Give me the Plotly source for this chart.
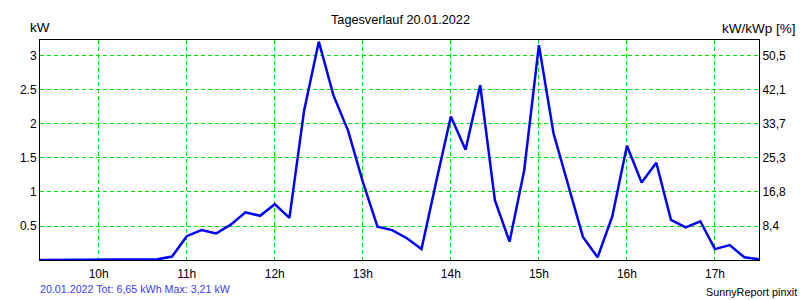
import plotly.graph_objects as go

times = ["09:20", "09:30", "09:40", "09:50", "10:00", "10:10", "10:20", "10:30",
         "10:40", "10:50", "11:00", "11:10", "11:20", "11:30", "11:40", "11:50",
         "12:00", "12:10", "12:20", "12:30", "12:40", "12:50", "13:00", "13:10",
         "13:20", "13:30", "13:40", "13:50", "14:00", "14:10", "14:20", "14:30",
         "14:40", "14:50", "15:00", "15:10", "15:20", "15:30", "15:40", "15:50",
         "16:00", "16:10", "16:20", "16:30", "16:40", "16:50", "17:00", "17:10",
         "17:20", "17:30"]
power_kw = [0, 0, 0, 0, 0, 0, 0, 0,
            0.01, 0.05, 0.35, 0.44, 0.39, 0.52, 0.70, 0.65,
            0.82, 0.62, 2.20, 3.21, 2.42, 1.90, 1.15, 0.49,
            0.44, 0.32, 0.16, 1.15, 2.11, 1.62, 2.57, 0.88,
            0.27, 1.32, 3.16, 1.86, 1.10, 0.34, 0.04, 0.64,
            1.68, 1.14, 1.43, 0.59, 0.48, 0.57, 0.16, 0.22,
            0.04, 0.01]

hour_ticks = ["10:00", "11:00", "12:00", "13:00", "14:00", "15:00", "16:00", "17:00"]
hour_labels = ["10h", "11h", "12h", "13h", "14h", "15h", "16h", "17h"]
kw_ticks = [0.5, 1, 1.5, 2, 2.5, 3]
kw_labels = ["0.5", "1", "1.5", "2", "2.5", "3"]
pct_labels = ["8,4", "16,8", "25,3", "33,7", "42,1", "50,5"]

day = "2022-01-20 "
x = [day + t for t in times]

font = "Liberation Sans, Arial, sans-serif"
grid_color = "#00e600"
y_range = [0, 3.235]

W, H = 800, 300
L, R, T, B = 40, 41, 40, 40
pw, ph = W - L - R, H - T - B


def px_x(px):
    return (px - L) / pw


def px_y(py):
    return (H - B - py) / ph


fig = go.Figure()
fig.add_trace(go.Scatter(x=x, y=power_kw, mode="lines",
                         line=dict(color="#0000ff", width=2.5),
                         showlegend=False, hoverinfo="skip"))
fig.add_trace(go.Scatter(x=x, y=power_kw, mode="lines", yaxis="y2",
                         line=dict(color="rgba(0,0,0,0)", width=0),
                         showlegend=False, hoverinfo="skip"))

fig.update_layout(
    width=W, height=H,
    margin=dict(l=L, r=R, t=T, b=B),
    paper_bgcolor="white", plot_bgcolor="white",
    font=dict(family=font, size=12, color="black"),
    xaxis=dict(
        type="date",
        range=[day + "09:20", day + "17:30"],
        tickvals=[day + t for t in hour_ticks],
        ticktext=hour_labels,
        showgrid=True, gridcolor=grid_color, griddash="4px,3px", gridwidth=1,
        showline=True, linecolor="black", linewidth=1, mirror=True,
        ticks="", zeroline=False, ticklabelstandoff=3,
    ),
    yaxis=dict(
        range=y_range,
        tickvals=kw_ticks, ticktext=kw_labels,
        showgrid=True, gridcolor=grid_color, griddash="4px,3px", gridwidth=1,
        showline=True, linecolor="black", linewidth=1, mirror=True,
        ticks="", zeroline=False, ticklabelstandoff=0,
    ),
    yaxis2=dict(
        range=y_range, overlaying="y", side="right",
        tickvals=kw_ticks, ticktext=pct_labels,
        showgrid=False, showline=True, linecolor="black", linewidth=1,
        ticks="", zeroline=False, ticklabelstandoff=0,
    ),
)

fig.add_annotation(text="Tagesverlauf 20.01.2022", xref="paper", yref="paper",
                   x=px_x(400), y=px_y(20), showarrow=False,
                   font=dict(size=12.7), xanchor="center", yanchor="middle")
fig.add_annotation(text="kW", xref="paper", yref="paper", x=px_x(40), y=px_y(27),
                   showarrow=False, font=dict(size=13.5), xanchor="center", yanchor="middle")
fig.add_annotation(text="kW/kWp [%]", xref="paper", yref="paper", x=px_x(798), y=px_y(28),
                   showarrow=False, font=dict(size=13.5), xanchor="right", yanchor="middle")
fig.add_annotation(text="20.01.2022 Tot: 6,65 kWh Max: 3,21 kW", xref="paper", yref="paper",
                   x=px_x(38), y=px_y(289), showarrow=False, font=dict(size=10.7, color="#3c3cf0"),
                   xanchor="left", yanchor="middle")
fig.add_annotation(text="SunnyReport pinxit", xref="paper", yref="paper",
                   x=px_x(799), y=px_y(292), showarrow=False, font=dict(size=10.8),
                   xanchor="right", yanchor="middle")

fig.write_html("out.html", config={"displayModeBar": False},
               post_script="document.body.style.margin='0';document.body.style.padding='0';")
